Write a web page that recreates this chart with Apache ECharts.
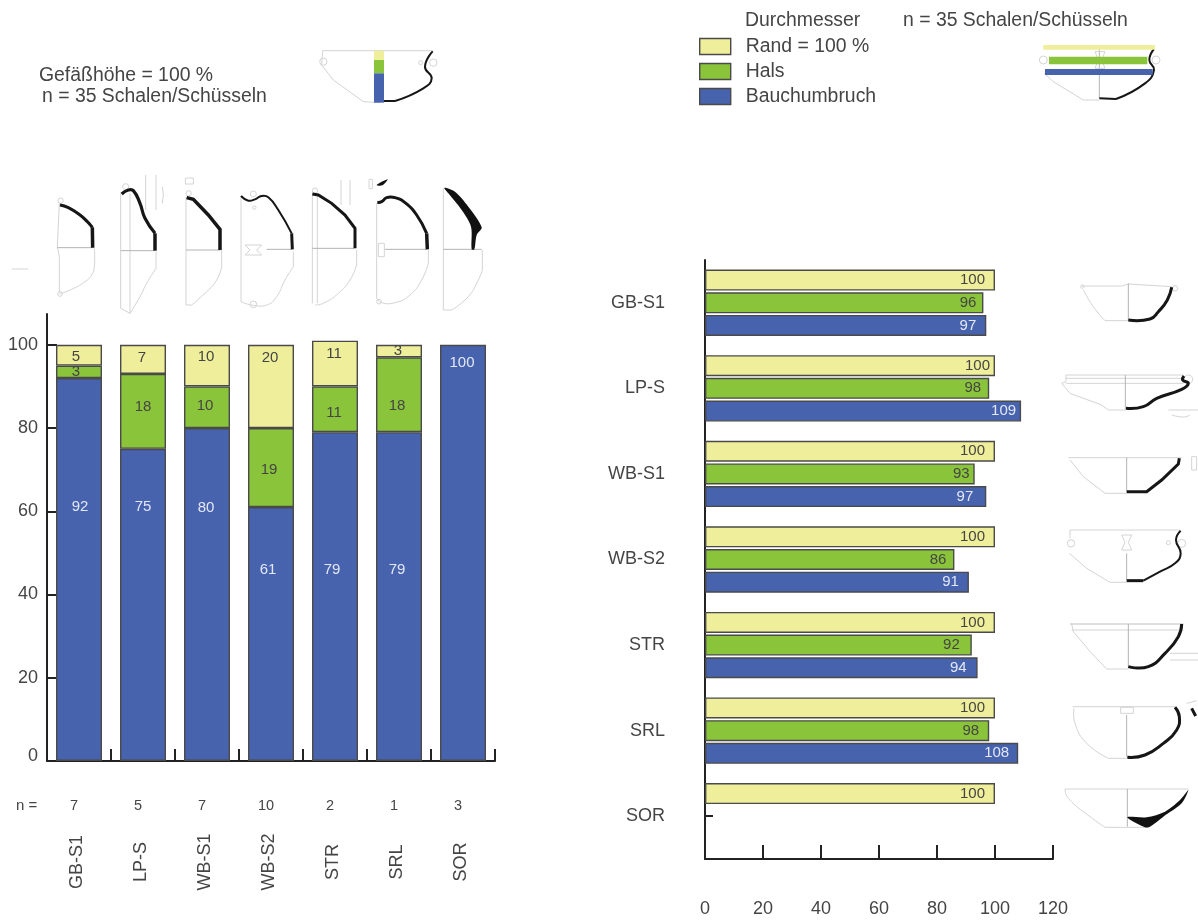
<!DOCTYPE html>
<html><head><meta charset="utf-8">
<style>html,body{margin:0;padding:0;background:#fff}#c{width:1198px;height:920px}</style>
<script src="https://cdn.jsdelivr.net/npm/echarts@6/dist/echarts.min.js"></script>
</head><body><div id="c"></div>
<script>
// ---------- data ----------
const categories = ['GB-S1','LP-S','WB-S1','WB-S2','STR','SRL','SOR'];
const sampleSizes = ['7','5','7','10','2','1','3'];
const heightBauch = [92,75,80,61,79,79,100];
const heightHals  = [3,18,10,19,11,18,null];
const heightRand  = [5,7,10,20,11,3,null];
const diamRand  = [100,100,100,100,100,100,100];
const diamHals  = [96,98,93,86,92,98,null];
const diamBauch = [97,109,97,91,94,108,null];
const heightTicks = [0,20,40,60,80,100];
const seriesNames = ['Rand = 100 %','Hals','Bauchumbruch'];

// ---------- hand placement of the value labels, as in the original figure ----------
const bauchShift = [[1,-63],[0,-98],[-1,-87],[-3,-64],[-3,-27],[-2,-27],[-1,-190]];
const halsShift  = [[-3,0],[0,-5],[-2,-1],[-2,2],[-1,4],[-2,11],[0,0]];
const randShift  = [[-3,2],[-1,-2],[-1,-9],[-1,-29],[-1,-10],[-1,0],[0,0]];
const dRandShift  = [0,5,0,0,0,0,0];
const dHalsShift  = [3,2,5,2,-2,0,0];
const dBauchShift = [0,5,-3,0,-1,1,0];

// ---------- style ----------
const YEL='#EFEE9A', GRN='#8AC43A', BLU='#4763AE', EDGE='#4a4a4a', INK='#454545', AXIS='#222', PALE='#d4d4d4', MID='#b4b4b4';
const FONT='"Liberation Sans", Arial, sans-serif';

function stacked(name, values, color, shifts, labelColor){
  return {name, type:'bar', stack:'h', xAxisIndex:0, yAxisIndex:0, barWidth:46,
    itemStyle:{color, borderColor:EDGE, borderWidth:1.4},
    label:{show:true, position:'inside', color:labelColor, fontSize:15, fontFamily:FONT},
    data:values.map((v,i)=>({value:v, label:{offset:shifts[i]}}))};
}
function grouped(name, values, color, shifts, labelColor){
  return {name, type:'bar', xAxisIndex:3, yAxisIndex:3, barWidth:21, barGap:'8%',
    itemStyle:{color, borderColor:EDGE, borderWidth:1.4},
    label:{show:true, position:'insideRight', distance:10, color:labelColor, fontSize:15, fontFamily:FONT},
    data:values.map((v,i)=>({value:v, label:{offset:[shifts[i],0]}}))};
}

// ---------- vessel drawings (illustration only, not data) ----------
const art=[];
function map(o,p){return p.map(q=>[o[0]+q[0]/3,o[1]+q[1]/3]);}
function ln(o,p,w,c){art.push({type:'polyline',silent:true,shape:{points:map(o,p),smooth:0.5},style:{stroke:c||PALE,lineWidth:w||1,fill:null}});}
function st(o,p,w,c){art.push({type:'polyline',silent:true,shape:{points:map(o,p)},style:{stroke:c||PALE,lineWidth:w||1,fill:null}});}
function pg(o,p){art.push({type:'polygon',silent:true,shape:{points:map(o,p),smooth:0.3},style:{fill:'#111'}});}
function ci(o,x,y,r){art.push({type:'circle',silent:true,shape:{cx:o[0]+x/3,cy:o[1]+y/3,r:r/3},style:{stroke:PALE,lineWidth:1,fill:null}});}
function rc(o,x0,y0,x1,y1,c,z){art.push({type:'rect',silent:true,z:z||0,shape:{x:o[0]+x0/3,y:o[1]+y0/3,width:(x1-x0)/3,height:(y1-y0)/3},style:c?{fill:c}:{stroke:PALE,lineWidth:1,fill:null}});}
const HV='#161616';

let o=[0,170];
st(o,[[178,100],[172,230],[178,260],[178,368]]); ln(o,[[178,372],[215,358],[255,335],[275,315],[283,290],[283,235]]);
st(o,[[172,233],[278,233]],1,MID); ci(o,182,92,8); ci(o,180,372,7); st(o,[[35,297],[85,297]]);
ln(o,[[180,105],[205,113],[240,135],[262,155],[277,172]],3,HV); st(o,[[277,172],[278,233]],3.5,HV);
st(o,[[362,70],[362,415],[390,430]]); st(o,[[390,70],[390,430]]); st(o,[[362,242],[465,242]],1,MID);
ln(o,[[390,430],[420,380],[440,340],[468,295]]); st(o,[[468,295],[468,245]]); ci(o,377,50,9);
st(o,[[437,15],[437,120]]); st(o,[[468,15],[468,120]]); st(o,[[487,50],[490,75],[487,100]]);
ln(o,[[365,72],[385,60],[400,62],[420,100],[435,145],[465,190]],3.2,HV); st(o,[[465,190],[465,242]],3.5,HV);
st(o,[[558,80],[558,405],[575,405]]); ln(o,[[575,405],[620,365],[650,330],[665,290]]); st(o,[[665,290],[665,240]]);
st(o,[[558,240],[660,240]],1,MID); ci(o,566,70,8); rc(o,556,24,580,42);
st(o,[[560,83],[580,88],[625,135],[660,178],[660,240]],3.5,HV);

o=[235,170];
st(o,[[18,78],[18,395]]); ln(o,[[18,395],[50,405],[95,405],[125,380],[150,330],[175,290]]); st(o,[[175,290],[175,245]]);
st(o,[[95,238],[170,238]],1,MID); st(o,[[30,225],[80,225],[65,240],[80,255],[30,255],[45,240],[30,225]]);
ci(o,55,72,9); ci(o,55,403,10); ci(o,58,113,5);
ln(o,[[18,78],[40,92],[60,88],[80,78],[100,82],[130,120],[170,190]],2,HV); st(o,[[170,190],[172,238]],3,HV);
st(o,[[232,75],[232,400]]); st(o,[[247,75],[247,400]]); st(o,[[232,235],[358,235]],1,MID);
ln(o,[[240,405],[265,400],[310,370],[345,330],[365,285]]); st(o,[[365,285],[365,240]]); ci(o,240,62,8);
st(o,[[318,30],[318,105]]); st(o,[[345,30],[345,105]]);
st(o,[[232,72],[250,75],[290,100],[330,135],[360,175],[360,235]],3,HV);
st(o,[[425,100],[425,385]]); ln(o,[[425,385],[440,398],[480,398],[525,375],[560,330],[580,280]]); st(o,[[580,280],[580,240]]);
st(o,[[450,238],[575,238]],1,MID); ci(o,432,395,7); rc(o,430,220,448,260); rc(o,402,28,412,56);
ln(o,[[427,97],[440,95],[455,83],[480,83],[510,98],[545,135],[575,190]],3,HV); st(o,[[575,190],[577,238]],3.5,HV);
pg(o,[[425,45],[458,28],[442,46]]);
st(o,[[625,55],[625,420],[650,420]]); ln(o,[[650,420],[700,380],[730,330],[742,300]]); st(o,[[742,300],[742,240]]);
st(o,[[625,238],[740,238]],1,MID);
pg(o,[[628,53],[660,65],[700,110],[740,172],[725,195],[718,238],[710,238],[708,170],[680,120],[640,70]]);

o=[1050,270];
st(o,[[95,48],[215,48],[235,42],[365,50]]); ln(o,[[100,60],[130,110],[165,152]]); st(o,[[165,152],[235,152]]);
st(o,[[235,40],[235,150]],1,MID); ci(o,97,50,5); ci(o,375,55,8);
ln(o,[[365,52],[352,90],[325,125],[300,147],[235,150]],3,HV);
st(o,[[48,315],[400,315]]); st(o,[[48,325],[400,325]]); st(o,[[48,340],[400,340]]);
st(o,[[48,315],[48,335],[35,340],[60,370],[155,405],[175,420],[228,420]]); st(o,[[226,315],[226,418]],1,MID);
ci(o,415,328,13); st(o,[[355,420],[444,420]]); ln(o,[[365,435],[400,441],[420,435]]);
ln(o,[[402,318],[398,330],[415,340],[395,358],[320,385],[280,410],[228,415]],3,HV);

o=[1050,440];
st(o,[[55,53],[395,53]]); st(o,[[60,60],[100,110],[165,160],[230,160]]); st(o,[[230,53],[230,155]],1,MID);
rc(o,425,50,440,90);
st(o,[[388,55],[385,72],[335,120],[290,155],[230,155]],3,HV);
st(o,[[60,270],[390,270]]); st(o,[[60,270],[60,295]]); ci(o,63,310,11); ci(o,395,310,12); ci(o,355,308,6);
st(o,[[58,340],[110,385],[180,427],[230,427]]); st(o,[[230,340],[230,420]],1,MID);
st(o,[[215,285],[245,285],[235,307],[245,330],[215,330],[225,307],[215,285]]);
ln(o,[[392,272],[378,300],[392,340],[375,370],[330,395],[280,422]],2,HV); st(o,[[280,422],[230,422]],3,HV);
st(o,[[60,552],[400,552]],1.4); st(o,[[65,570],[400,570]]); st(o,[[65,552],[70,575],[125,640],[170,687],[235,687]]);
st(o,[[235,552],[235,680]],1,MID); st(o,[[360,640],[444,640]]); st(o,[[360,660],[444,660]]);
ln(o,[[395,552],[385,590],[345,640],[295,680],[235,680]],3,HV);

o=[1050,680];
st(o,[[68,80],[375,80]]); ln(o,[[72,85],[75,130],[110,190],[175,235]]); st(o,[[175,235],[230,235]]);
st(o,[[230,105],[230,230]],1,MID); rc(o,212,82,250,100);
ln(o,[[375,82],[388,110],[380,150],[340,190],[285,225],[232,232]],3,HV);
st(o,[[425,85],[437,108]],3,HV); st(o,[[410,70],[440,62]]);
st(o,[[45,327],[415,327]]); ln(o,[[45,327],[55,355],[120,410],[165,442]]); st(o,[[165,442],[290,442]]);
st(o,[[232,327],[232,440]],1,MID);
pg(o,[[415,330],[395,370],[340,410],[300,440],[285,442],[232,412],[290,412],[345,395],[390,360]]);

// small key vessels in the header
o=[1030,35];
st(o,[[42,115],[70,140],[160,195],[208,195]]); st(o,[[208,35],[208,190]],1,MID);
st(o,[[195,50],[225,50],[215,75],[225,100],[195,100],[205,75],[195,50]]);
ci(o,40,75,12); ci(o,378,75,12);
rc(o,40,30,375,44,YEL,2); rc(o,57,65,352,88,GRN,2); rc(o,45,102,368,120,BLU,2);
ln(o,[[372,42],[358,75],[372,105],[345,145],[258,192]],2,HV); st(o,[[258,192],[208,190]],2,HV);
o=[0,30];
st(o,[[968,62],[1300,62]]); st(o,[[968,62],[965,105],[1000,150],[1090,215],[1140,218]]);
ci(o,970,95,11); ci(o,1262,98,6); ci(o,1300,98,11);
rc(o,1122,62,1152,90,YEL,2); rc(o,1122,90,1152,130,GRN,2); rc(o,1122,130,1152,218,BLU,2);
ln(o,[[1298,64],[1275,110],[1295,145],[1270,175],[1185,213]],2,HV); st(o,[[1185,213],[1140,213]],2,HV);

const txt=(left,top,text)=>({left,top,text,textStyle:{color:INK,fontSize:19.4,fontWeight:'normal',fontFamily:FONT},padding:0});
const axisLine={show:true,lineStyle:{color:AXIS,width:2}};
const inTick=(len,extra)=>Object.assign({show:true,inside:true,length:len,lineStyle:{color:AXIS,width:2}},extra||{});
const axisText={color:INK,fontSize:18,fontFamily:FONT};

const chart=echarts.init(document.getElementById('c'),null,{renderer:'canvas'});
chart.setOption({
  animation:false, backgroundColor:'#fff',
  title:[txt(39,66,'Gefäßhöhe = 100 %'),txt(42,87,'n = 35 Schalen/Schüsseln'),txt(745,11,'Durchmesser'),txt(903,11,'n = 35 Schalen/Schüsseln')],
  legend:{data:seriesNames, orient:'vertical', left:699, top:37, padding:0, itemWidth:31, itemHeight:16, itemGap:6, selectedMode:false,
    icon:'rect', textStyle:{color:INK,fontSize:19.4,fontFamily:FONT,padding:[0,0,0,10]}, itemStyle:{borderColor:EDGE,borderWidth:1.4}},
  grid:[
    {left:47,top:314,width:448,height:447},
    {left:45,top:314,width:448,height:447},
    {left:42,top:314,width:448,height:447},
    {left:705,top:260,width:348,height:599}
  ],
  xAxis:[
    {type:'category',gridIndex:0,data:categories,axisLine,axisTick:inTick(12),axisLabel:{show:false}},
    {type:'category',gridIndex:1,position:'bottom',data:categories,axisLine:{show:false},axisTick:{show:false},
      axisLabel:Object.assign({rotate:90,align:'center',verticalAlign:'middle',margin:101,interval:0},axisText)},
    {type:'category',gridIndex:2,position:'bottom',data:sampleSizes,axisLine:{show:false},axisTick:{show:false},
      axisLabel:{color:INK,fontSize:14.5,fontFamily:FONT,margin:37,interval:0}},
    {type:'value',gridIndex:3,min:0,max:120,interval:20,splitLine:{show:false},axisLine,axisTick:inTick(14),
      axisLabel:Object.assign({margin:41},axisText)}
  ],
  yAxis:[
    {type:'value',gridIndex:0,min:0,max:107.4,splitLine:{show:false},axisLine,
      axisTick:inTick(10,{customValues:heightTicks}),
      axisLabel:Object.assign({margin:9,customValues:heightTicks,
        formatter:v=>v===0?'{z|0}':String(v),rich:{z:{padding:[0,0,9,0],color:INK,fontSize:18,fontFamily:FONT}}},axisText)},
    {type:'value',gridIndex:1,show:false,min:0,max:107.4},
    {type:'value',gridIndex:2,show:false,min:0,max:107.4},
    {type:'category',gridIndex:3,inverse:true,data:categories,axisLine,
      axisTick:inTick(8,{alignWithLabel:true}),axisLabel:Object.assign({margin:40,interval:0},axisText)}
  ],
  series:[
    stacked(seriesNames[2],heightBauch,BLU,bauchShift,'#e3e7f5'),
    stacked(seriesNames[1],heightHals,GRN,halsShift,INK),
    stacked(seriesNames[0],heightRand,YEL,randShift,INK),
    grouped(seriesNames[0],diamRand,YEL,dRandShift,INK),
    grouped(seriesNames[1],diamHals,GRN,dHalsShift,INK),
    grouped(seriesNames[2],diamBauch,BLU,dBauchShift,'#e3e7f5')
  ],
  graphic:[{type:'text',left:16,top:798,silent:true,style:{text:'n =',fill:INK,font:'15px '+FONT}}].concat(art)
});
</script></body></html>
